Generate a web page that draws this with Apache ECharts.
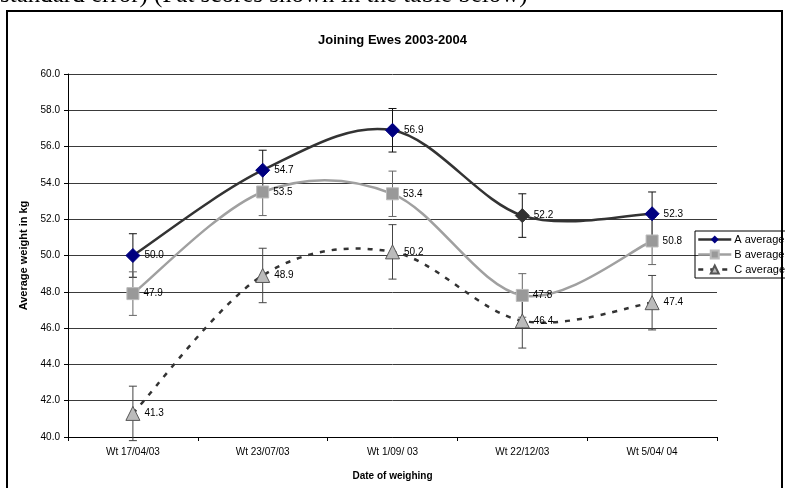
<!DOCTYPE html>
<html><head><meta charset="utf-8">
<script src="https://cdn.jsdelivr.net/npm/echarts@6/dist/echarts.min.js"></script>
<style>html,body{margin:0;padding:0;background:#fff}#c{width:785px;height:488px}</style>
</head><body><div id="c"></div>
<script>
const categories = ['Wt 17/04/03', 'Wt 23/07/03', 'Wt 1/09/ 03', 'Wt 22/12/03', 'Wt 5/04/ 04'];
const aAverage = [50.0, 54.7, 56.9, 52.2, 52.3];
const bAverage = [47.9, 53.5, 53.4, 47.8, 50.8];
const cAverage = [41.3, 48.9, 50.2, 46.4, 47.4];
const aError = [1.2, 1.1, 1.2, 1.2, 1.2];
const bError = [1.2, 1.3, 1.25, 1.2, 1.3];
const cError = [1.5, 1.5, 1.5, 1.5, 1.5];
const yTicks = [40, 42, 44, 46, 48, 50, 52, 54, 56, 58, 60];

const chart = echarts.init(document.getElementById('c'));
const font = 'Liberation Sans, Arial, sans-serif';

function errSeries(vals, errs, color) {
  return {
    type: 'custom', silent: true, z: 1,
    data: vals.map((v, i) => [i, v - errs[i], v + errs[i]]),
    renderItem: function (params, api) {
      const lo = api.coord([api.value(0), api.value(1)]);
      const hi = api.coord([api.value(0), api.value(2)]);
      const w = 4;
      const st = { stroke: color, lineWidth: 1 };
      return { type: 'group', children: [
        { type: 'line', shape: { x1: lo[0], y1: lo[1], x2: hi[0], y2: hi[1] }, style: st },
        { type: 'line', shape: { x1: lo[0] - w, y1: lo[1], x2: lo[0] + w, y2: lo[1] }, style: st },
        { type: 'line', shape: { x1: hi[0] - w, y1: hi[1], x2: hi[0] + w, y2: hi[1] }, style: st }
      ]};
    }
  };
}

// Excel-style (Catmull-Rom) smoothed curve through the data, via the axis scales
function curveSeries(vals, color, dash, z) {
  return {
    type: 'custom', silent: true, z: z,
    data: [[0, vals[0]]],
    renderItem: function (params, api) {
      const p = vals.map((v, i) => api.coord([i, v]));
      const n = p.length;
      let d = 'M' + p[0][0] + ' ' + p[0][1];
      for (let i = 0; i < n - 1; i++) {
        const p0 = p[Math.max(i - 1, 0)], p1 = p[i], p2 = p[i + 1], p3 = p[Math.min(i + 2, n - 1)];
        const c1 = [p1[0] + (p2[0] - p0[0]) / 6, p1[1] + (p2[1] - p0[1]) / 6];
        const c2 = [p2[0] - (p3[0] - p1[0]) / 6, p2[1] - (p3[1] - p1[1]) / 6];
        d += ' C' + c1[0] + ' ' + c1[1] + ' ' + c2[0] + ' ' + c2[1] + ' ' + p2[0] + ' ' + p2[1];
      }
      return { type: 'path', shape: { pathData: d }, style: { fill: 'none', stroke: color, lineWidth: 2.5, lineDash: dash || null } };
    }
  };
}

const labelCfg = { show: true, position: 'right', distance: 4, color: '#000', fontSize: 10, fontFamily: font, formatter: p => p.value.toFixed(1) };

chart.setOption({
  animation: false,
  title: { text: 'Joining Ewes 2003-2004', left: 'center', top: 29, textStyle: { fontSize: 13, fontWeight: 'bold', color: '#000', fontFamily: font } },
  graphic: [
    { type: 'rect', shape: { x: 7, y: 11, width: 775, height: 490 }, style: { fill: 'none', stroke: '#000', lineWidth: 2 }, z: -1 },
    { type: 'text', left: 0, top: -17, style: { text: 'standard error) (Fat scores shown in the table below)', font: '25px "Liberation Serif", "Times New Roman", serif', fill: '#000' } }
  ],
  legend: {
    orient: 'vertical', left: 695, top: 231, itemWidth: 33, itemHeight: 10, itemGap: 4,
    padding: [3, 4, 3, 2], borderColor: '#000', borderWidth: 1,
    textStyle: { fontSize: 11, fontFamily: font, color: '#000', padding: [0, 0, 0, -2] },
    data: [
      { name: 'A average', lineStyle: { opacity: 1, color: '#333', width: 2.5 } },
      { name: 'B average', lineStyle: { opacity: 1, color: '#a0a0a0', width: 2.5 } },
      { name: 'C average', lineStyle: { opacity: 1, color: '#333', width: 2.5, type: [5, 7] } }
    ]
  },
  grid: { left: 68, right: 68, top: 74, bottom: 51 },
  xAxis: {
    type: 'category', data: categories, boundaryGap: true,
    name: 'Date of weighing', nameLocation: 'middle', nameGap: 34,
    nameTextStyle: { fontSize: 10, fontWeight: 'bold', color: '#000', fontFamily: font },
    axisLine: { lineStyle: { color: '#000' } },
    axisTick: { show: true, length: 4, lineStyle: { color: '#000' } },
    axisLabel: { fontSize: 10, color: '#000', fontFamily: font, margin: 10 }
  },
  yAxis: {
    type: 'value', min: 40, max: 60, interval: 2,
    name: 'Average weight in kg', nameLocation: 'middle', nameGap: 31, nameRotate: 90,
    nameTextStyle: { fontSize: 11, fontWeight: 'bold', color: '#000', fontFamily: font },
    axisLine: { show: true, lineStyle: { color: '#000' } },
    axisTick: { show: true, length: 4, lineStyle: { color: '#000' } },
    axisLabel: { fontSize: 10, color: '#000', fontFamily: font, margin: 8, formatter: v => yTicks.includes(v) ? v.toFixed(1) : '' },
    splitLine: { show: true, lineStyle: { color: '#3a3a3a', width: 1 } }
  },
  series: [
    errSeries(aAverage, aError, '#111'),
    errSeries(bAverage, bError, '#666'),
    errSeries(cAverage, cError, '#444'),
    curveSeries(cAverage, '#333', [5, 7], 2),
    curveSeries(bAverage, '#a0a0a0', null, 2),
    curveSeries(aAverage, '#333', null, 2),
    {
      name: 'C average', type: 'line', z: 3,
      data: cAverage, symbol: 'triangle', symbolSize: 14,
      lineStyle: { color: '#333', width: 2.5, type: [5, 7], opacity: 0 },
      itemStyle: { color: '#bbb', borderColor: '#555', borderWidth: 1 },
      label: labelCfg
    },
    {
      name: 'B average', type: 'line', z: 4,
      data: bAverage, symbol: 'rect', symbolSize: 12,
      lineStyle: { color: '#a0a0a0', width: 2.5, opacity: 0 },
      itemStyle: { color: '#999', borderColor: '#bbb', borderWidth: 1 },
      label: labelCfg
    },
    {
      name: 'A average', type: 'line', z: 5,
      data: aAverage.map((v, i) => i === 3 ? { value: v, itemStyle: { color: '#333', borderColor: '#333' } } : v),
      symbol: 'diamond', symbolSize: 14,
      lineStyle: { color: '#333', width: 2.5, opacity: 0 },
      itemStyle: { color: '#000080', borderColor: '#000080' },
      label: labelCfg
    }
  ]
});
</script></body></html>
